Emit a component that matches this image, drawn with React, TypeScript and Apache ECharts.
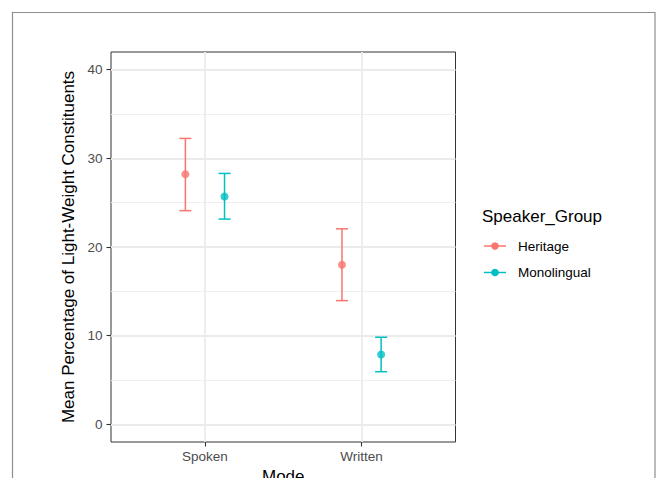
import React, { useEffect, useRef } from "react";
import * as echarts from "echarts";

const modes = ["Spoken", "Written"];
const groups = ["Heritage", "Monolingual"];
const heritageMean = [28.2, 18.0];
const heritageLow = [24.1, 13.95];
const heritageHigh = [32.25, 22.05];
const monoMean = [25.7, 7.87];
const monoLow = [23.15, 5.93];
const monoHigh = [28.3, 9.82];
const yMajor = [0, 10, 20, 30, 40];
const yMinor = [5, 15, 25, 35];
const groupColors = ["#F8766D", "#00BFC4"];
const FONT = "Liberation Sans, Arial, Helvetica, sans-serif";

export default function App() {
  const ref = useRef<HTMLDivElement>(null);
  useEffect(() => {
    if (!ref.current) return;
    const chart = echarts.init(ref.current, null, { renderer: "svg" });
    const dodge = 0.125;
    const stats = [
      { mean: heritageMean, low: heritageLow, high: heritageHigh },
      { mean: monoMean, low: monoLow, high: monoHigh },
    ];
    const series: any[] = [];
    stats.forEach((s, gi) => {
      const off = gi === 0 ? -dodge : dodge;
      const color = groupColors[gi];
      series.push({
        type: "custom",
        name: groups[gi] + " error",
        renderItem: (params: any, api: any) => {
          const x = api.value(0);
          const lo = api.coord([x, api.value(1)]);
          const hi = api.coord([x, api.value(2)]);
          const hw = 6;
          const style = { stroke: color, lineWidth: 1.5, fill: "none" };
          return {
            type: "group",
            children: [
              { type: "line", shape: { x1: lo[0], y1: lo[1], x2: hi[0], y2: hi[1] }, style },
              { type: "line", shape: { x1: lo[0] - hw, y1: lo[1], x2: lo[0] + hw, y2: lo[1] }, style },
              { type: "line", shape: { x1: hi[0] - hw, y1: hi[1], x2: hi[0] + hw, y2: hi[1] }, style },
            ],
          };
        },
        data: modes.map((_, i) => [i + 1 + off, s.low[i], s.high[i]]),
        z: 3,
      });
      series.push({
        type: "scatter",
        name: groups[gi],
        symbol: "circle",
        symbolSize: 8,
        itemStyle: { color },
        data: modes.map((_, i) => [i + 1 + off, s.mean[i]]),
        z: 4,
      });
    });

    const legendX = 484;
    const legendItems: any[] = [];
    groups.forEach((g, gi) => {
      const y = 246 + gi * 26.5;
      legendItems.push(
        { type: "line", shape: { x1: legendX, y1: y, x2: legendX + 22, y2: y }, style: { stroke: groupColors[gi], lineWidth: 1.5 } },
        { type: "circle", shape: { cx: legendX + 11, cy: y, r: 3.8 }, style: { fill: groupColors[gi] } },
        { type: "text", x: 518, y, style: { text: g, fontSize: 13.5, fontFamily: FONT, fill: "#000", verticalAlign: "middle" } }
      );
    });

    chart.setOption({
      animation: false,
      backgroundColor: "#fff",
      grid: {
        left: 111,
        top: 52,
        right: 202.5,
        bottom: 36,
        show: true,
        borderColor: "#333",
        borderWidth: 1,
        backgroundColor: "#fff",
        containLabel: false,
        outerBoundsMode: "none",
      },
      xAxis: {
        type: "value",
        min: 0.4,
        max: 2.6,
        axisLine: { show: false, onZero: false },
        axisTick: { show: true, customValues: [1, 2], length: 4.5, lineStyle: { color: "#333", width: 1.1 } },
        axisLabel: {
          customValues: [1, 2],
          formatter: (v: number) => modes[Math.round(v) - 1] ?? "",
          color: "#4D4D4D",
          fontSize: 13.5,
          fontFamily: FONT,
          margin: 7,
        },
        splitLine: { show: true, lineStyle: { color: "#EBEBEB", width: 1.8 } },
        name: "Mode",
        nameLocation: "middle",
        nameGap: 24,
        nameTextStyle: { color: "#000", fontSize: 17, fontFamily: FONT },
      },
      yAxis: [
        {
          type: "value",
          min: -2,
          max: 42,
          axisLine: { show: false, onZero: false },
          axisTick: { show: true, customValues: yMajor, length: 4.5, lineStyle: { color: "#333", width: 1.1 } },
          axisLabel: {
            customValues: yMajor,
            color: "#4D4D4D",
            fontSize: 13.5,
            fontFamily: FONT,
            margin: 8.5,
          },
          splitLine: { show: true, lineStyle: { color: "#EBEBEB", width: 1.8 } },
          name: "Mean Percentage of Light-Weight Constituents",
          nameLocation: "middle",
          nameGap: 27,
          nameTextStyle: { color: "#000", fontSize: 17, fontFamily: FONT },
        },
        {
          type: "value",
          min: -2,
          max: 42,
          position: "left",
          axisLine: { show: false, onZero: false },
          axisTick: { show: false, customValues: yMinor },
          axisLabel: { show: false, customValues: yMinor },
          splitLine: { show: true, lineStyle: { color: "#EFEFEF", width: 1.2 } },
        },
      ],
      series,
      graphic: [
        {
          type: "rect",
          shape: { x: 12.5, y: 12.5, width: 642.5, height: 480 },
          style: { fill: "none", stroke: "#8F8F8F", lineWidth: 1.2 },
          silent: true,
        },
        {
          type: "text",
          x: 482,
          y: 216.5,
          style: { text: "Speaker_Group", fontSize: 17, fontFamily: FONT, fill: "#000", verticalAlign: "middle" },
        },
        ...legendItems,
      ],
    });
    return () => chart.dispose();
  }, []);
  return <div ref={ref} style={{ position: "absolute", left: 0, top: 0, width: 658, height: 478 }} />;
}
